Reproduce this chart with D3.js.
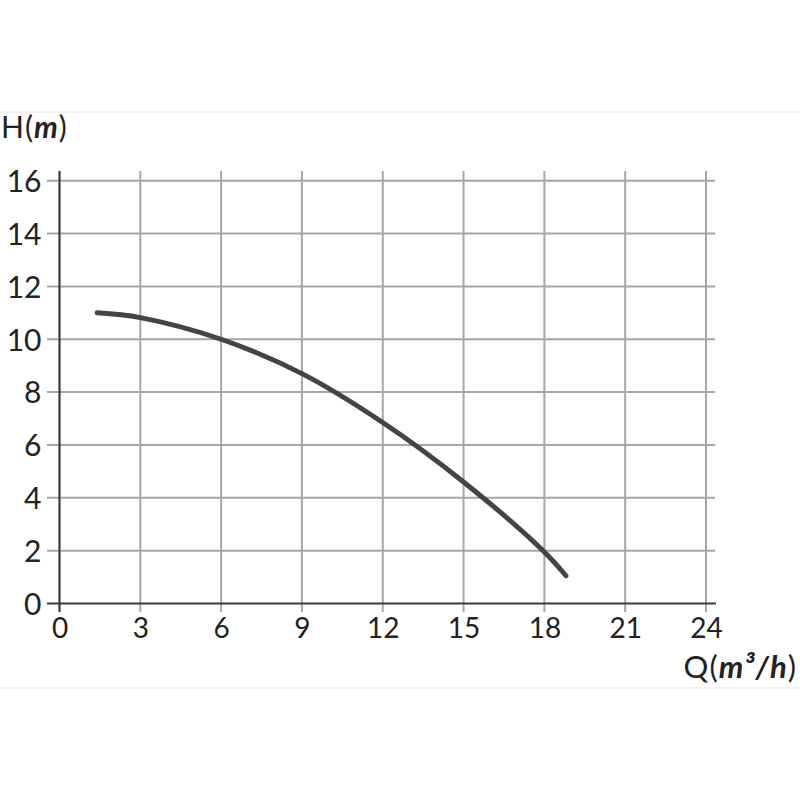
<!DOCTYPE html>
<html>
<head>
<meta charset="utf-8">
<script src="https://cdn.jsdelivr.net/npm/d3@7"></script>
<style>
  body { margin: 0; background: #fff; }
  svg text { font-family: "Lato", "Roboto", sans-serif; fill: #222; }
</style>
</head>
<body>
<div id="chart"></div>
<script>
// pump curve Q (m3/h) vs H (m)
var flowQ = [1.4, 3, 6, 9, 12, 15, 18, 18.8];
var headH = [11.0, 10.82, 10.0, 8.7, 6.85, 4.6, 1.95, 1.05];
var xTicks = [0, 3, 6, 9, 12, 15, 18, 21, 24];
var yTicks = [0, 2, 4, 6, 8, 10, 12, 14, 16];

var svgWidth = 800;
var svgHeight = 800;

var svg = d3.select("#chart")
    .append("svg")
    .attr("width", svgWidth)
    .attr("height", svgHeight);

var xScale = d3.scaleLinear().domain([0, 24]).range([59.5, 706]);
var yScale = d3.scaleLinear().domain([0, 16]).range([603.5, 180.7]);

var gridTop = 171, gridBottom = 612, gridLeft = 47, gridRight = 715;

// faint separator lines
svg.selectAll(".sep")
    .data([112, 688])
    .enter()
    .append("line")
    .attr("x1", 0).attr("x2", svgWidth)
    .attr("y1", d => d).attr("y2", d => d)
    .attr("stroke", "#ececec")
    .attr("stroke-width", 1.5);

// grid
svg.selectAll(".vgrid")
    .data(xTicks.slice(1))
    .enter()
    .append("line")
    .attr("x1", d => xScale(d)).attr("x2", d => xScale(d))
    .attr("y1", gridTop).attr("y2", gridBottom)
    .attr("stroke", "#a6a6a6")
    .attr("stroke-width", 2);

svg.selectAll(".hgrid")
    .data(yTicks.slice(1))
    .enter()
    .append("line")
    .attr("x1", gridLeft).attr("x2", gridRight)
    .attr("y1", d => yScale(d)).attr("y2", d => yScale(d))
    .attr("stroke", "#a6a6a6")
    .attr("stroke-width", 2);

// axis lines
svg.append("line")
    .attr("x1", gridLeft).attr("x2", gridRight + 1)
    .attr("y1", yScale(0)).attr("y2", yScale(0))
    .attr("stroke", "#3a3a3a").attr("stroke-width", 2.2);
svg.append("line")
    .attr("x1", xScale(0)).attr("x2", xScale(0))
    .attr("y1", gridTop).attr("y2", gridBottom)
    .attr("stroke", "#3a3a3a").attr("stroke-width", 2.2);

// tick labels
var xAxis = svg.append("g")
    .attr("transform", "translate(0," + yScale(0) + ")")
    .call(d3.axisBottom(xScale).tickValues(xTicks).tickSize(0).tickPadding(15));
xAxis.select(".domain").remove();
xAxis.selectAll("text").attr("font-size", 28).attr("dy", "0.71em");

var yAxis = svg.append("g")
    .attr("transform", "translate(" + xScale(0) + ",0)")
    .call(d3.axisLeft(yScale).tickValues(yTicks).tickSize(0).tickPadding(18));
yAxis.select(".domain").remove();
yAxis.selectAll("text").attr("font-size", 30).attr("dy", "0.36em");

// axis titles
var hTitle = svg.append("text")
    .attr("x", 1).attr("y", 138)
    .attr("font-size", 30)
    .attr("letter-spacing", 1);
hTitle.append("tspan").text("H(");
hTitle.append("tspan").text("m").attr("font-weight", "bold").attr("font-style", "italic");
hTitle.append("tspan").text(")");

var qTitle = svg.append("text")
    .attr("x", 797).attr("y", 678)
    .attr("text-anchor", "end")
    .attr("font-size", 31)
    .attr("letter-spacing", 1);
qTitle.append("tspan").text("Q(");
qTitle.append("tspan").text("m³/h").attr("font-weight", "bold").attr("font-style", "italic");
qTitle.append("tspan").text(")");

// curve
var pts = flowQ.map((q, i) => [q, headH[i]]);
var line = d3.line()
    .x(d => xScale(d[0]))
    .y(d => yScale(d[1]))
    .curve(d3.curveCatmullRom.alpha(0.5));

svg.append("path")
    .datum(pts)
    .attr("d", line)
    .attr("fill", "none")
    .attr("stroke", "#444")
    .attr("stroke-width", 5)
    .attr("stroke-linecap", "round");
</script>
</body>
</html>
